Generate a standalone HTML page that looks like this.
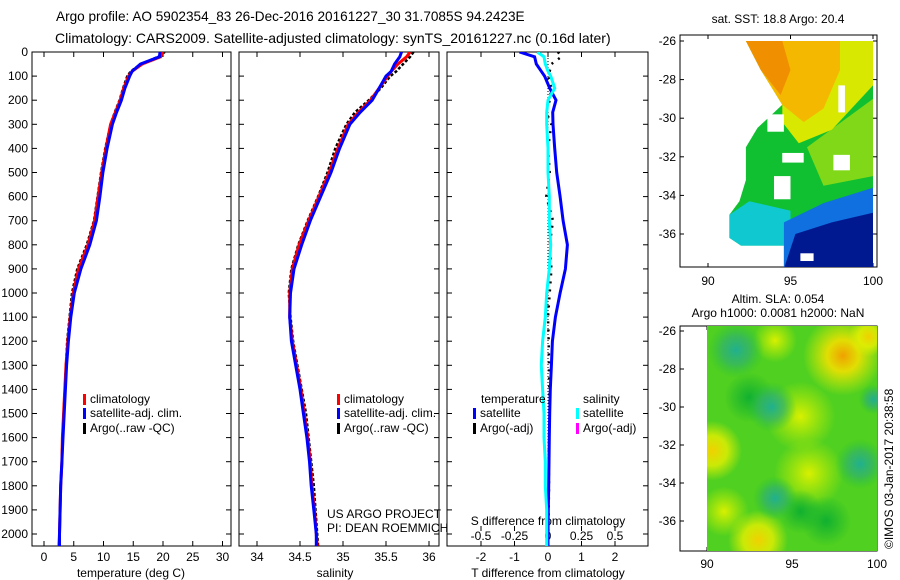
<!DOCTYPE html>
<html><head><meta charset="utf-8">
<style>
body{margin:0;background:#fff;}
svg{display:block;font-family:"Liberation Sans",sans-serif;}
text{font-size:12px;fill:#000;}
</style></head>
<body>
<svg id="chart" width="900" height="580" viewBox="0 0 900 580">
<defs>
<clipPath id="c1"><rect x="32" y="52" width="199" height="494"/></clipPath>
<clipPath id="c2"><rect x="239" y="52" width="200" height="494"/></clipPath>
<clipPath id="c3"><rect x="447" y="52" width="201" height="494"/></clipPath>
<clipPath id="cm1"><rect x="680" y="35" width="197" height="232"/></clipPath>
<clipPath id="cm2"><rect x="707" y="326" width="170" height="225"/></clipPath>
<radialGradient id="gy"><stop offset="0" stop-color="#f0a000"/><stop offset="0.4" stop-color="#f0e000" stop-opacity="0.9"/><stop offset="1" stop-color="#e0f000" stop-opacity="0"/></radialGradient>
<radialGradient id="gy2"><stop offset="0" stop-color="#f0d000"/><stop offset="0.5" stop-color="#e8f000" stop-opacity="0.8"/><stop offset="1" stop-color="#e0f000" stop-opacity="0"/></radialGradient>
<radialGradient id="gt"><stop offset="0" stop-color="#20b090"/><stop offset="0.5" stop-color="#30b070" stop-opacity="0.7"/><stop offset="1" stop-color="#20c040" stop-opacity="0"/></radialGradient>
<radialGradient id="gl"><stop offset="0" stop-color="#d8f000"/><stop offset="1" stop-color="#c8f000" stop-opacity="0"/></radialGradient>
<radialGradient id="gd"><stop offset="0" stop-color="#10b030"/><stop offset="1" stop-color="#10b030" stop-opacity="0"/></radialGradient>
</defs>
<g id="titles">
<text x="56" y="21" style="font-size:13.6px">Argo profile: AO 5902354_83 26-Dec-2016 20161227_30 31.7085S 94.2423E</text>
<text x="55" y="43" style="font-size:14px">Climatology: CARS2009. Satellite-adjusted climatology: synTS_20161227.nc (0.16d later)</text>
<text x="778" y="23" text-anchor="middle">sat. SST: 18.8 Argo: 20.4</text>
<text x="778" y="303" text-anchor="middle">Altim. SLA: 0.054</text>
<text x="778" y="317" text-anchor="middle">Argo h1000: 0.0081 h2000: NaN</text>
<text transform="translate(893,549) rotate(-90)">©IMOS 03-Jan-2017 20:38:58</text>
</g>
<g id="axes"></g>
<g id="marks"></g>
</svg>
<script>
// ---------- data ----------
const depthTicks=[0,100,200,300,400,500,600,700,800,900,1000,1100,1200,1300,1400,1500,1600,1700,1800,1900,2000];
const tempTicks=[0,5,10,15,20,25,30];
const salTicks=[34,34.5,35,35.5,36];
const salTickLabels=["34","34.5","35","35.5","36"];
const tdTicks=[-2,-1,0,1,2];
const sdTicks=[-0.5,-0.25,0,0.25,0.5];
const sdTickLabels=["-0.5","-0.25","0","0.25","0.5"];
const depths=[0,20,50,80,100,150,200,250,300,400,500,600,700,800,900,1000,1100,1200,1300,1400,1500,1600,1700,1800,1900,2000,2050];
const tempClim=[20.0,19.6,16.5,14.8,14.2,13.4,12.8,12.0,11.2,10.4,9.7,9.1,8.5,7.4,5.8,4.9,4.4,4.0,3.7,3.5,3.3,3.1,3.0,2.8,2.7,2.6,2.5];
const tempSat=[19.5,19.4,16.2,14.8,14.4,13.6,13.0,12.2,11.5,10.6,9.9,9.4,8.8,7.7,6.2,5.1,4.5,4.1,3.8,3.6,3.4,3.2,3.0,2.8,2.7,2.6,2.6];
const tempArgo=[20.3,19.2,16.3,14.6,14.0,13.3,12.7,11.9,11.2,10.3,9.6,9.0,8.4,7.2,5.6,4.7,4.3,3.9,3.7,3.5,3.3,3.1,3.0,2.8,2.7,2.6,2.5];
const salClim=[35.78,35.74,35.64,35.56,35.52,35.42,35.32,35.18,35.06,34.94,34.84,34.72,34.6,34.49,34.41,34.38,34.38,34.41,34.46,34.51,34.55,34.59,34.62,34.64,34.67,34.69,34.7];
const salSat=[35.68,35.66,35.6,35.56,35.5,35.42,35.34,35.2,35.08,34.96,34.86,34.74,34.62,34.52,34.43,34.39,34.38,34.4,34.45,34.5,34.54,34.58,34.61,34.63,34.66,34.69,34.69];
const salArgo=[35.82,35.78,35.7,35.62,35.55,35.44,35.3,35.14,35.04,34.91,34.82,34.71,34.59,34.48,34.4,34.37,34.39,34.42,34.47,34.52,34.57,34.6,34.63,34.66,34.68,34.7,34.71];
const tDiffSat=[-0.85,-0.4,-0.35,-0.2,-0.1,0.05,0.24,0.14,0.15,0.2,0.26,0.36,0.45,0.58,0.52,0.36,0.22,0.13,0.1,0.07,0.05,0.04,0.03,0.02,0.01,0.0,0.0];
const sDiffSat=[-0.08,-0.03,-0.02,0.0,0.02,0.05,0.0,-0.01,-0.01,0.0,0.0,0.01,0.01,0.02,0.01,-0.01,-0.02,-0.04,-0.05,-0.04,-0.03,-0.03,-0.02,-0.02,-0.01,-0.01,-0.01];
const tDiffArgo=[0.3,0.4,0.1,0.05,0.0,0.1,0.05,-0.05,0.1,0.0,0.05,-0.05,0.15,0.05,0.1,0.05,0.0,0.02,0.03,0.04,0.05,0.03,0.02,0.03,0.02,0.01,0.0];
const latTicks=[-26,-28,-30,-32,-34,-36];
const lonTicks=[90,95,100];

// ---------- scales ----------
const yD=d=>52+0.241*d;
const xT=t=>44+5.95*t;
const xS=s=>257+86*(s-34);
const xTD=v=>548+33.5*v;
const xSD=v=>548+134*v;
const xLon1=l=>708+16.5*(l-90), yLat1=l=>41+19.3*(-26-l);
const xLon2=l=>707+17*(l-90), yLat2=l=>331+19*(-26-l);

const NS="http://www.w3.org/2000/svg";
const axes=document.getElementById('axes'), marks=document.getElementById('marks');
function mk(tag,attrs,parent){const e=document.createElementNS(NS,tag);for(const k in attrs)e.setAttribute(k,attrs[k]);(parent||marks).appendChild(e);return e;}
function txt(x,y,s,anchor,parent){const e=mk('text',{x:x,y:y,'text-anchor':anchor||'middle'},parent||axes);e.textContent=s;return e;}

// ---------- panel frames ----------
const panels=[{x:32,w:199,n:'temperature-panel'},{x:239,w:200,n:'salinity-panel'},{x:447,w:201,n:'difference-panel'}];
panels.forEach(p=>{
 const r=mk('rect',{x:p.x,y:52,width:p.w,height:494,fill:'none',stroke:'#000','stroke-width':1},axes);
 
 
 depthTicks.forEach(d=>{mk('line',{x1:p.x,x2:p.x+5,y1:yD(d),y2:yD(d),stroke:'#000'},axes);mk('line',{x1:p.x+p.w-5,x2:p.x+p.w,y1:yD(d),y2:yD(d),stroke:'#000'},axes);});
});
depthTicks.forEach(d=>{const t=txt(28,yD(d)+4,String(d),'end');
 
 });
function xticks(vals,labels,sc,ly,bottom){vals.forEach((v,i)=>{const x=sc(v);mk('line',{x1:x,x2:x,y1:52,y2:57,stroke:'#000'},axes);mk('line',{x1:x,x2:x,y1:bottom-5,y2:bottom,stroke:'#000'},axes);
 const t=txt(x,ly,labels[i]);
 
 });}
xticks(tempTicks,tempTicks.map(String),xT,561,546);
xticks(salTicks,salTickLabels,xS,561,546);
xticks(tdTicks,tdTicks.map(String),xTD,561,546);
sdTicks.forEach((v,i)=>{const x=xSD(v);mk('line',{x1:x,x2:x,y1:526,y2:531,stroke:'#000'},axes);const t=txt(x,540,sdTickLabels[i]);
 
 });
[['temperature (deg C)',131,'x-axis-title-temperature'],['salinity',335,'x-axis-title-salinity'],['T difference from climatology',548,'x-axis-title-t-diff']].forEach(a=>{const t=txt(a[1],577,a[0]);
 
 });
{const t=txt(548,525,'S difference from climatology');
 
 }
{const t=txt(327,518,'US ARGO PROJECT','start');
 
 
 const t2=txt(327,532,'PI: DEAN ROEMMICH','start');
 
 }

// ---------- profile lines ----------
function line(xs,sc,color,w,clip,name,dash){
 const pts=xs.map((v,i)=>sc(v).toFixed(1)+','+yD(depths[i]).toFixed(1)).join(' ');
 const e=mk('polyline',{points:pts,fill:'none',stroke:color,'stroke-width':w,'clip-path':'url(#'+clip+')','stroke-dasharray':dash||'none'});
 
 
}
line(tempArgo,xT,'#000',2.5,'c1','argo-temperature-line','3 2');
line(tempClim,xT,'#f00',3,'c1','climatology-temperature-line');
line(tempSat,xT,'#00f',3,'c1','satellite-temperature-line');
line(salArgo,xS,'#000',2.5,'c2','argo-salinity-line','3 2');
line(salClim,xS,'#f00',3,'c2','climatology-salinity-line');
line(salSat,xS,'#00f',3,'c2','satellite-salinity-line');
{const z=mk('line',{x1:548,x2:548,y1:52,y2:546,stroke:'#000','stroke-dasharray':'1 2'});
 
 }
line(tDiffArgo,xTD,'#000',2.5,'c3','argo-t-diff-line','2 6');
line(tDiffSat,xTD,'#00f',3,'c3','satellite-t-diff-line');
line(sDiffSat,xSD,'#0ff',3,'c3','satellite-s-diff-line');

// ---------- legends ----------
function leg(x,y,color,label,name){const r=mk('rect',{x:x,y:y-9,width:3,height:11,fill:color});
 
 
 const t=txt(x+7,y,label,'start',marks);
 
 }
leg(83,403,'#f00','climatology','legend-climatology');
leg(83,417,'#00f','satellite-adj. clim.','legend-satellite-adj');
leg(83,432,'#000','Argo(..raw -QC)','legend-argo');
leg(337,403,'#f00','climatology','legend-climatology-2');
leg(337,417,'#00f','satellite-adj. clim.','legend-satellite-adj-2');
leg(337,432,'#000','Argo(..raw -QC)','legend-argo-2');
{const t=txt(481,403,'temperature','start',marks);
 
 
 const t2=txt(583,403,'salinity','start',marks);
 
 }
leg(473,417,'#00f','satellite','legend-t-satellite');
leg(473,432,'#000','Argo(-adj)','legend-t-argo');
leg(576,417,'#0ff','satellite','legend-s-satellite');
leg(576,432,'#f0f','Argo(-adj)','legend-s-argo');

// ---------- map 1 (SST) ----------
const sstRegions=[
 {n:'sst-green',c:'#10c030',p:[[92.3,-26],[100,-26],[100,-37.8],[94.6,-37.8],[94.6,-36.6],[92,-36.6],[91.3,-36.2],[91.3,-35],[91.9,-34.3],[92.3,-33.2],[92.3,-31.5],[93,-30.5],[94.5,-29.3],[93.2,-27.5]]},
 {n:'sst-yellow-green',c:'#80d818',p:[[96,-31.5],[100,-29],[100,-33],[97,-33.5]]},
 {n:'sst-yellow',c:'#d8e800',p:[[92.3,-26],[100,-26],[100,-28.3],[97.5,-30.6],[95.5,-31.3],[94.5,-30.2],[94.5,-29.3],[93.2,-27.5]]},
 {n:'sst-orange',c:'#f5b800',p:[[92.3,-26],[98,-26],[98,-27.5],[97,-29.5],[95.8,-30.2],[94.5,-29.3],[93.2,-27.5]]},
 {n:'sst-orange-dark',c:'#f09000',p:[[92.3,-26],[94.5,-26],[95,-27.5],[94.4,-28.8],[93.2,-27.5]]},
 {n:'sst-cyan',c:'#10c8d0',p:[[91.3,-35],[92.5,-34.3],[95,-34.8],[95,-36.6],[92,-36.6],[91.3,-36.2]]},
 {n:'sst-blue',c:'#1070e0',p:[[94.6,-35.4],[97,-34.4],[100,-33.6],[100,-37.8],[94.6,-37.8]]},
 {n:'sst-navy',c:'#001890',p:[[95.3,-36],[97.5,-35.4],[100,-34.9],[100,-37.8],[94.6,-37.8]]}
];
const mapG=mk('g',{'clip-path':'url(#cm1)'});


sstRegions.forEach(r=>{const e=mk('polygon',{points:r.p.map(q=>xLon1(q[0]).toFixed(1)+','+yLat1(q[1]).toFixed(1)).join(' '),fill:r.c},mapG);
 
 });
const sstHoles=[[93.6,-29.8,1,-0.9],[94.5,-31.8,1.3,-0.5],[97.6,-31.9,1,-0.8],[94,-33,1,-1.2],[97.9,-28.3,0.4,-1.4],[95.6,-37,0.8,-0.4]];
sstHoles.forEach(h=>{const e=mk('rect',{x:xLon1(h[0]),y:yLat1(h[1]),width:16.5*h[2],height:-19.3*h[3],fill:'#fff'},mapG);
 
 });
mk('rect',{x:680,y:35,width:197,height:232,fill:'none',stroke:'#000'},axes);
// ---------- map 2 (SLA) ----------
const m2=mk('g',{'clip-path':'url(#cm2)'});


mk('rect',{x:707,y:326,width:170,height:225,fill:'#50d020'},m2);
const slaBlobs=[[98,-27.3,40,'gy'],[95.5,-30.5,35,'gl'],[90.3,-32.3,30,'gy2'],[93,-37,30,'gy2'],[96,-33.5,35,'gl'],[91,-35.5,25,'gl'],[99.5,-26.3,20,'gy2'],[94,-26.5,22,'gl'],[92.5,-29.5,25,'gd'],[97,-36,25,'gd'],[95.5,-35.5,22,'gd'],[91.7,-27,28,'gt'],[93.8,-30,25,'gt'],[99,-33,25,'gt'],[94,-34.8,22,'gt'],[99.8,-29.6,15,'gt']];
slaBlobs.forEach(b=>{const e=mk('circle',{cx:xLon2(b[0]),cy:yLat2(b[1]),r:b[2],fill:'url(#'+b[3]+')'},m2);
 
 });
mk('rect',{x:680,y:326,width:197,height:225,fill:'none',stroke:'#000'},axes);
// map ticks
function mapTicks(xl,yl,top,bot,ly){
 latTicks.forEach(l=>{const y=yl(l);mk('line',{x1:680,x2:684,y1:y,y2:y,stroke:'#000'},axes);mk('line',{x1:873,x2:877,y1:y,y2:y,stroke:'#000'},axes);
  const t=txt(676,y+4,String(l),'end');
  
  });
 lonTicks.forEach(l=>{const x=xl(l);mk('line',{x1:x,x2:x,y1:top,y2:top+4,stroke:'#000'},axes);mk('line',{x1:x,x2:x,y1:bot-4,y2:bot,stroke:'#000'},axes);
  const t=txt(x,ly,String(l));
  
  });
}
mapTicks(xLon1,yLat1,35,267,285);
mapTicks(xLon2,yLat2,326,551,568);
</script>
</body></html>
